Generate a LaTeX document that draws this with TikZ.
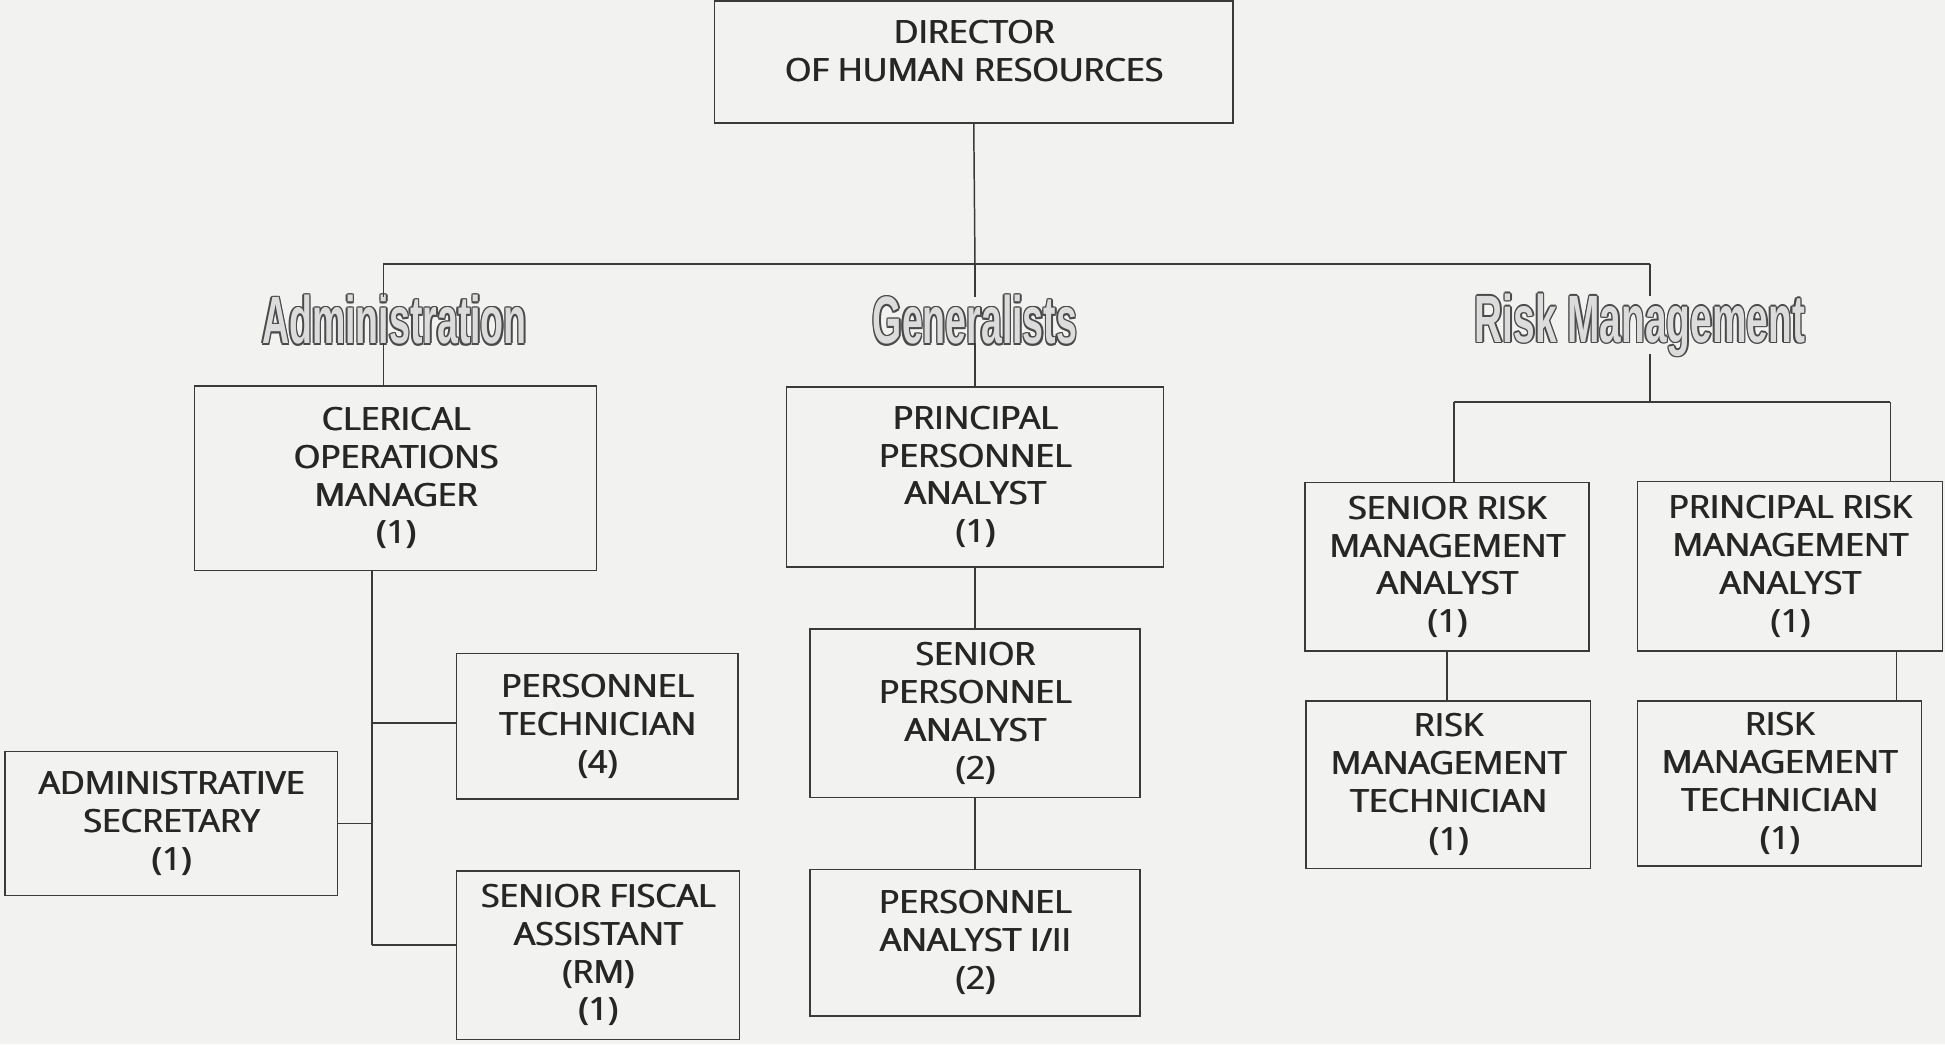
\documentclass[tikz,border=0pt]{standalone}
\usepackage{fontspec}
\newfontfamily\boxff{Open Sans}[FakeStretch=1.06]
\newfontfamily\hdfont{Liberation Sans Bold}[FakeStretch=0.56]
\newfontfamily\hdfontw{Liberation Sans Bold}[FakeStretch=0.58]
\definecolor{bg}{HTML}{F2F2F0}
\definecolor{ln}{HTML}{3A3A3A}
\definecolor{tx}{HTML}{262626}
\definecolor{hdout}{HTML}{4A4A4A}
\definecolor{hdin}{HTML}{DCDCDC}
\newcommand\hdcp[3]{\rlap{\hspace*{#1}\raisebox{#2}{\textcolor{hdout}{#3}}}}
\newcommand\outlined[1]{%
\hdcp{1.2pt}{0pt}{#1}\hdcp{-1.2pt}{0pt}{#1}\hdcp{0pt}{1.2pt}{#1}\hdcp{0pt}{-1.2pt}{#1}%
\hdcp{0.85pt}{0.85pt}{#1}\hdcp{-0.85pt}{0.85pt}{#1}\hdcp{0.85pt}{-0.85pt}{#1}\hdcp{-0.85pt}{-0.85pt}{#1}%
\textcolor{hdin}{#1}}
% poor man's semibold: the same line set twice, a hair apart
\newcommand\pb[1]{\rlap{\hspace*{0.9pt}#1}#1}
\newcommand\boxfont{\boxff\fontsize{25.8}{30.5}\selectfont}
\begin{document}
\begin{tikzpicture}[x=1pt,y=-1pt,
  box/.style={draw=ln, line width=1.2pt, fill=bg, align=center, inner sep=0pt, font=\boxfont, text=tx},
  hd/.style={inner sep=0pt, font=\hdfont\fontsize{54}{54}\selectfont},
  conn/.style={draw=ln, line width=1.2pt}]
\fill[bg] (0,0) rectangle (1568,842);

% boxes
\node[box, minimum width=418pt, minimum height=98pt] (dir) at (785,50) {\pb{DIRECTOR}\\\pb{OF HUMAN RESOURCES}\\[-13pt]\mbox{}};
\node[box, minimum width=324pt, minimum height=149pt] (cler) at (319,385.5) {\pb{CLERICAL}\\\pb{OPERATIONS}\\\pb{MANAGER}\\\pb{(1)}};
\node[box, minimum width=304pt, minimum height=145pt] (ppa) at (786,384.5) {\pb{PRINCIPAL}\\\pb{PERSONNEL}\\\pb{ANALYST}\\\pb{(1)}};
\node[box, minimum width=266pt, minimum height=136pt] (spa) at (786,575) {\pb{SENIOR}\\\pb{PERSONNEL}\\\pb{ANALYST}\\\pb{(2)}};
\node[box, minimum width=266pt, minimum height=118pt] (pa12) at (786,760) {\pb{PERSONNEL}\\\pb{ANALYST I/II}\\\pb{(2)}};
\node[box, minimum width=227pt, minimum height=117pt] (ptech) at (481.5,585.5) {\pb{PERSONNEL}\\\pb{TECHNICIAN}\\\pb{(4)}};
\node[box, minimum width=268pt, minimum height=116pt] (asec) at (138,664) {\pb{ADMINISTRATIVE}\\\pb{SECRETARY}\\\pb{(1)}};
\node[box, minimum width=228pt, minimum height=136pt] (sfa) at (482,770) {\pb{SENIOR FISCAL}\\\pb{ASSISTANT}\\\pb{(RM)}\\\pb{(1)}};
\node[box, minimum width=229pt, minimum height=136pt] (srma) at (1166.5,457) {\pb{SENIOR RISK}\\\pb{MANAGEMENT}\\\pb{ANALYST}\\\pb{(1)}};
\node[box, minimum width=246pt, minimum height=137pt] (prma) at (1443,456.5) {\pb{PRINCIPAL RISK}\\\pb{MANAGEMENT}\\\pb{ANALYST}\\\pb{(1)}};
\node[box, minimum width=229pt, minimum height=135pt] (rmt1) at (1167.5,632.5) {\pb{RISK}\\\pb{MANAGEMENT}\\\pb{TECHNICIAN}\\\pb{(1)}};
\node[box, minimum width=229pt, minimum height=133pt] (rmt2) at (1434.5,631.5) {\pb{RISK}\\\pb{MANAGEMENT}\\\pb{TECHNICIAN}\\\pb{(1)}};

% headings
\node[hd] (hadm) at (318,258) {\outlined{Administration}};
\node[hd] (hgen) at (786,258) {\outlined{Generalists}};
\node[hd, font=\hdfontw\fontsize{54}{54}\selectfont] (hrisk) at (1322,262) {\outlined{Risk Management}};

% connectors
\coordinate (jt) at (786,213);
\coordinate (ja) at (309,213);
\coordinate (jr) at (1330,213);
\draw[conn] (dir.south) -- (jt);
\draw[conn] (ja) -- (jr);
\draw[conn] (ja) -- ([yshift=-3pt]ja |- hadm.north);
\draw[conn] ([yshift=3pt]hadm.south -| ja) -- (ja |- cler.north);
\draw[conn] (jt) -- ([yshift=-3pt]jt |- hgen.north);
\draw[conn] ([yshift=3pt]hgen.south -| jt) -- (jt |- ppa.north);
\draw[conn] (jr) -- ([yshift=-3pt]jr |- hrisk.north);
\coordinate (jr2) at (1330,324);
\draw[conn] ([yshift=3pt]hrisk.south -| jr) -- (jr2);
\coordinate (rl) at (1172,324);
\coordinate (rr) at (1524,324);
\draw[conn] (rl) -- (rr);
\draw[conn] (rl) -- (rl |- srma.north);
\draw[conn] (rr) -- (rr |- prma.north);

\coordinate (cv) at (300,762);
\coordinate (cp) at (300,583);
\coordinate (cs) at (300,664);
\draw[conn] (cv |- cler.south) -- (cv);
\draw[conn] (cv) -- (cv -| sfa.west);
\draw[conn] (cp) -- (cp -| ptech.west);
\draw[conn] (asec.east |- cs) -- (cs);

\draw[conn] (ppa.south) -- (spa.north);
\draw[conn] (spa.south) -- (pa12.north);
\draw[conn] (srma.south) -- (srma.south |- rmt1.north);
\coordinate (pr) at (1529,545);
\draw[conn] (prma.south -| pr) -- (pr |- rmt2.north);
\end{tikzpicture}
\end{document}
